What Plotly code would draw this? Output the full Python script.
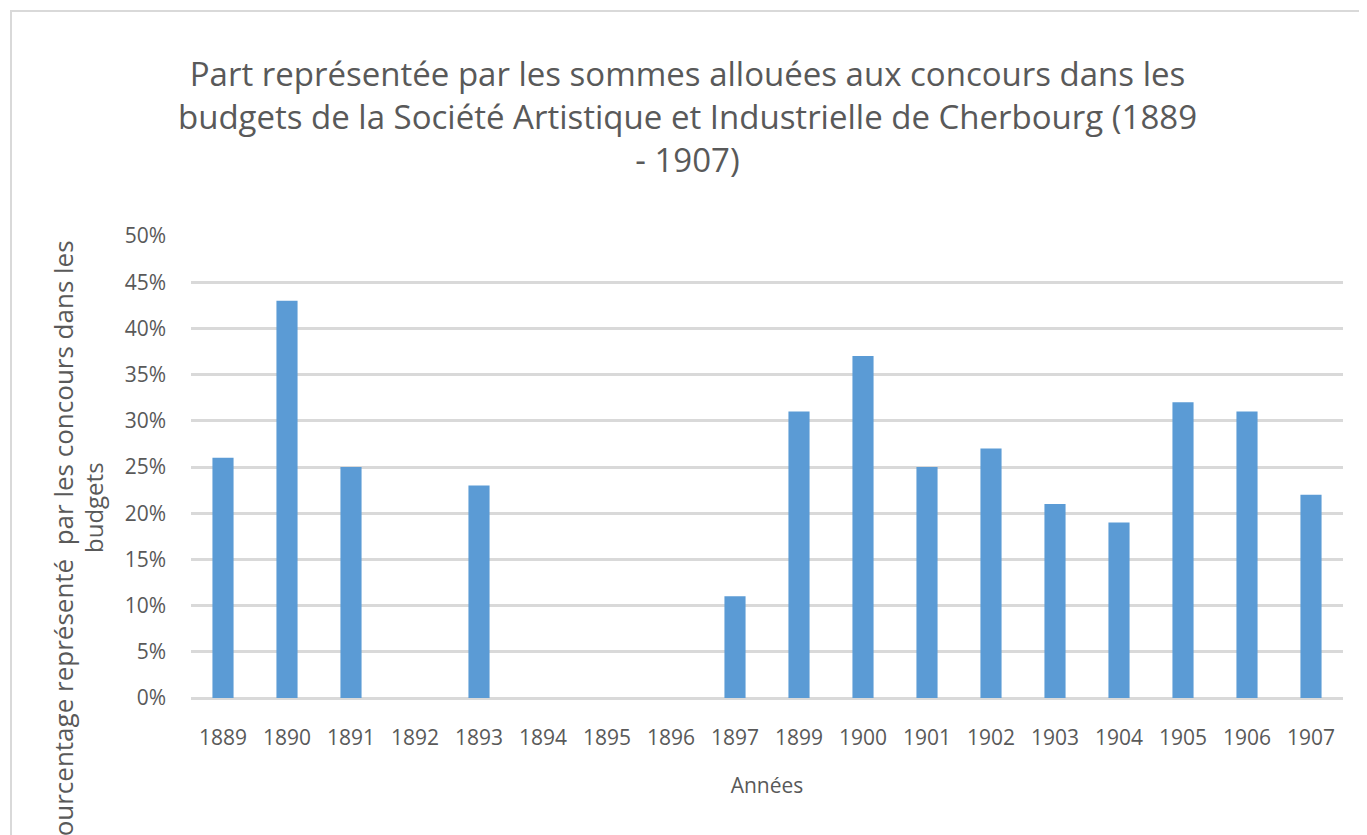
import plotly.graph_objects as go

years = ["1889", "1890", "1891", "1892", "1893", "1894", "1895", "1896", "1897",
         "1899", "1900", "1901", "1902", "1903", "1904", "1905", "1906", "1907"]
shares = [0.26, 0.43, 0.25, 0.0, 0.23, 0.0, 0.0, 0.0, 0.11,
          0.31, 0.37, 0.25, 0.27, 0.21, 0.19, 0.32, 0.31, 0.22]
y_ticks = [0, 0.05, 0.10, 0.15, 0.20, 0.25, 0.30, 0.35, 0.40, 0.45, 0.50]

# page body has an 8px margin, so the figure is sized/offset to compensate
OFF = 8
W, H = 1367 - OFF, 835 - OFF
L, R, T, B = 191 - OFF, 24, 236 - OFF, 137
pw, ph = W - L - R, H - T - B

def px(x):
    return (x - OFF - L) / pw

def py(y):
    return (H - B - (y - OFF)) / ph

FONT = "Open Sans"
GREY = "#595959"

fig = go.Figure(go.Bar(
    x=years, y=shares, marker=dict(color="#5b9bd5", line=dict(width=0)),
    width=0.33,
))

fig.update_layout(
    width=W, height=H,
    margin=dict(l=L, r=R, t=T, b=B),
    paper_bgcolor="white", plot_bgcolor="white",
    font=dict(family=FONT, color=GREY),
    title=dict(
        text="Part représentée par les sommes allouées aux concours dans les<br>"
             "budgets de la Société Artistique et Industrielle de Cherbourg (1889<br>"
             "- 1907)",
        x=0.5, xanchor="center", y=1 - (86 - OFF) / H, yanchor="middle",
        font=dict(family=FONT, size=33, color=GREY),
    ),
    xaxis=dict(
        type="category", showgrid=False, zeroline=False,
        showline=False, ticks="", tickfont=dict(size=21, color=GREY),
        ticklabelstandoff=25,
        title=dict(text="Années", font=dict(size=21, color=GREY), standoff=28),
    ),
    yaxis=dict(
        range=[0, 0.5], tickvals=y_ticks, tickformat=".0%",
        showgrid=True, gridcolor="#d9d9d9", gridwidth=3,
        zeroline=True, zerolinecolor="#d9d9d9", zerolinewidth=3,
        showline=False, ticks="", tickfont=dict(size=21, color=GREY),
        ticklabelstandoff=24,
    ),
    showlegend=False,
    annotations=[
        dict(text="Pourcentage représenté  par les concours dans les",
             xref="paper", yref="paper", x=px(63), y=py(238),
             xanchor="center", yanchor="top", textangle=-90, showarrow=False,
             font=dict(family=FONT, size=26, color=GREY)),
        dict(text="budgets",
             xref="paper", yref="paper", x=px(93), y=py(508),
             xanchor="center", yanchor="middle", textangle=-90, showarrow=False,
             font=dict(family=FONT, size=24, color=GREY)),
    ],
    shapes=[
        dict(type="rect", xref="paper", yref="paper",
             x0=px(11), x1=px(1367 + 50), y0=py(835 + 50), y1=py(11),
             line=dict(color="#d9d9d9", width=2), fillcolor="rgba(0,0,0,0)",
             layer="below"),
    ],
)

fig.write_html("out.html")
